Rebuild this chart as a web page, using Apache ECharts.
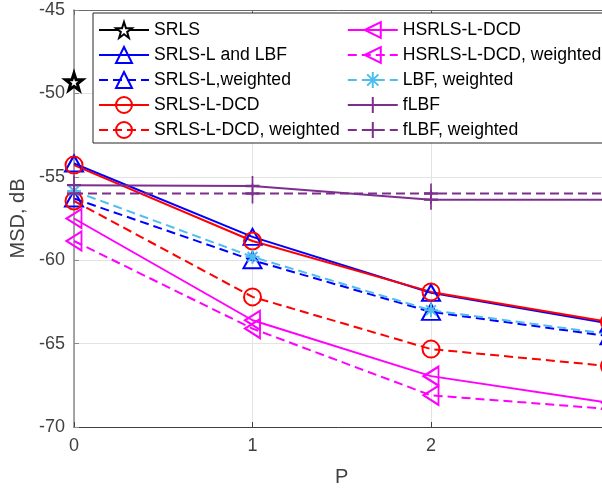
<!DOCTYPE html>
<html>
<head>
<meta charset="utf-8">
<script src="https://cdn.jsdelivr.net/npm/echarts@6/dist/echarts.min.js"></script>
<style>
  html, body { margin: 0; padding: 0; background: #fff; }
  #chart { width: 602px; height: 488px; }
</style>
</head>
<body>
<div id="chart"></div>
<script>
// P values on the x axis
var pValues = [0, 1, 2, 3];

// MSD in dB, one value per P
var srls = [-49.3];
var srlsL = [-54.2, -58.6, -61.95, -63.8];
var srlsLWeighted = [-56.3, -60.0, -63.1, -64.56];
var srlsLDCD = [-54.3, -58.85, -61.9, -63.7];
var srlsLDCDWeighted = [-56.45, -62.2, -65.33, -66.35];
var hsrls = [-57.5, -63.6, -66.95, -68.55];
var hsrlsWeighted = [-58.85, -64.1, -68.1, -68.92];
var lbfWeighted = [-55.85, -59.8, -63.0, -64.43];
var flbf = [-55.5, -55.55, -56.37, -56.37];
var flbfWeighted = [-56.0, -56.0, -56.0, -56.0];

var yTicks = { min: -70, max: -45, step: 5 };

var font = 'Liberation Sans, Arial, sans-serif';
var dash = [9, 5];
var starPath = 'path://M50 0 L61.8 35.1 L98.1 35.1 L69.1 56.7 L79.4 91 L50 70 L20.6 91 L30.9 56.7 L1.9 35.1 L38.2 35.1 Z';
var plusPath = 'path://M5 0 L5 10 M0 5 L10 5';
var asteriskPath = 'path://M5 0 L5 10 M0 5 L10 5 M1.5 1.5 L8.5 8.5 M8.5 1.5 L1.5 8.5';

function pts(vals) {
  return vals.map(function (v, i) { return [pValues[i], v]; });
}

function mkSeries(name, vals, color, dashed, symbol, size, rotate) {
  return {
    name: name,
    type: 'line',
    data: pts(vals),
    symbol: symbol,
    symbolSize: size,
    symbolRotate: rotate || 0,
    showAllSymbol: true,
    clip: false,
    lineStyle: { color: color, width: 2, type: dashed ? dash : 'solid' },
    itemStyle: { color: 'rgba(0,0,0,0)', borderColor: color, borderWidth: 2 },
    emphasis: { disabled: true },
    animation: false
  };
}

var series = [
  mkSeries('SRLS', srls, '#000000', false, starPath, 17),
  mkSeries('SRLS-L and LBF', srlsL, '#0000FF', false, 'triangle', [18, 16]),
  mkSeries('SRLS-L,weighted', srlsLWeighted, '#0000FF', true, 'triangle', [18, 16]),
  mkSeries('SRLS-L-DCD', srlsLDCD, '#FF0000', false, 'circle', 17),
  mkSeries('SRLS-L-DCD, weighted', srlsLDCDWeighted, '#FF0000', true, 'circle', 17),
  mkSeries('HSRLS-L-DCD', hsrls, '#FF00FF', false, 'triangle', [19, 15], 90),
  mkSeries('HSRLS-L-DCD, weighted', hsrlsWeighted, '#FF00FF', true, 'triangle', [19, 15], 90),
  mkSeries('LBF, weighted', lbfWeighted, '#4DBEEE', true, asteriskPath, 14),
  mkSeries('fLBF', flbf, '#7E2F8E', false, plusPath, [14, 20]),
  mkSeries('fLBF, weighted', flbfWeighted, '#7E2F8E', true, plusPath, [14, 20])
];
series[0].itemStyle.color = '#ffffff';
series[0].itemStyle.borderWidth = 3;

var chart = echarts.init(document.getElementById('chart'));
var option = {
  backgroundColor: '#ffffff',
  animation: false,
  textStyle: { fontFamily: font },
  grid: { left: 74, top: 10, width: 535.5, height: 417, containLabel: false, outerBoundsMode: 'none' },
  legend: {
    orient: 'vertical',
    left: 93,
    top: 13,
    height: 135,
    itemGap: 7,
    itemWidth: 50,
    itemHeight: 20,
    padding: [8, 14, 4, 5],
    backgroundColor: '#ffffff',
    borderColor: '#262626',
    borderWidth: 1,
    borderRadius: 0,
    textStyle: { fontSize: 17.6, color: '#000', fontFamily: font },
    data: series.map(function (s) { return s.name; })
  },
  xAxis: [{
    type: 'value',
    min: 0,
    max: 3,
    interval: 1,
    name: 'P',
    nameLocation: 'middle',
    nameGap: 40,
    nameTextStyle: { fontSize: 20, color: '#404040', fontFamily: font },
    axisLine: { onZero: false, lineStyle: { color: '#404040', width: 1 } },
    axisTick: { inside: true, length: 5, lineStyle: { color: '#404040' } },
    axisLabel: { fontSize: 18, color: '#404040', margin: 10, fontFamily: font },
    splitLine: { show: true, lineStyle: { color: '#e3e3e3', width: 1 } }
  }, {
    type: 'value',
    position: 'top',
    min: 0,
    max: 3,
    interval: 1,
    axisLine: { onZero: false, lineStyle: { color: '#6a6a6a', width: 1 } },
    axisTick: { inside: true, length: 5, lineStyle: { color: '#6a6a6a' } },
    axisLabel: { show: false },
    splitLine: { show: false }
  }],
  yAxis: {
    type: 'value',
    min: yTicks.min,
    max: yTicks.max,
    interval: yTicks.step,
    name: 'MSD, dB',
    nameLocation: 'middle',
    nameGap: 37,
    nameTextStyle: { fontSize: 20, color: '#404040', fontFamily: font },
    axisLine: { onZero: false, lineStyle: { color: '#8a8a8a', width: 1.5 } },
    axisTick: { inside: true, length: 5, lineStyle: { color: '#8a8a8a' } },
    axisLabel: { fontSize: 18, color: '#404040', margin: 9, fontFamily: font },
    splitLine: { show: true, lineStyle: { color: '#e3e3e3', width: 1 } }
  },
  series: series
};
option && chart.setOption(option);
</script>
</body>
</html>
